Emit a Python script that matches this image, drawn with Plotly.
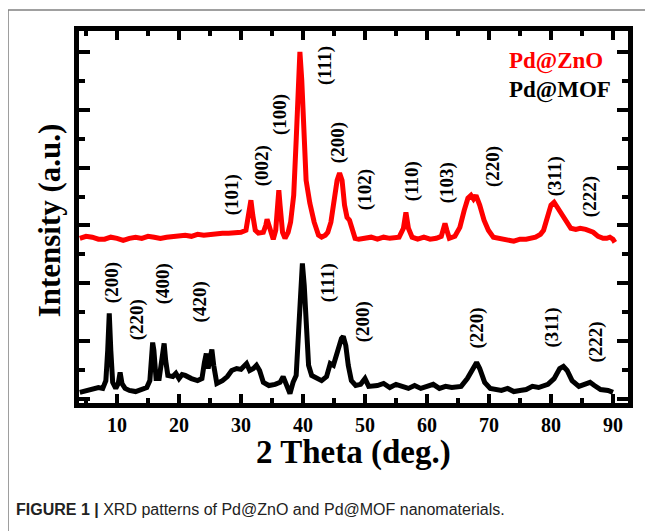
import plotly.graph_objects as go

# ---------------- data (2 theta in degrees, intensity in a.u.) ----------------
zno_2theta = [4, 5, 6, 7, 8, 9, 10, 11, 12, 13, 14, 15, 16, 17, 18, 19, 20, 21, 22, 23, 24, 25, 26, 27,
              28, 29, 30, 30.8, 31.3, 31.6, 31.9, 32.3, 32.8,
              33.6, 34.0, 34.2, 34.5, 35.0, 35.2, 35.6, 35.9, 36.1, 36.3, 36.7, 37.1, 37.6, 38.0, 38.5,
              38.9, 39.2, 39.5, 39.8, 40.1, 40.5, 41.1, 41.8, 42.5, 43.0, 43.6, 44.0, 44.5, 45.0, 45.5,
              45.9, 46.3, 46.7, 47.1, 47.5, 47.9, 48.4, 49, 50, 51, 52, 53, 54, 55.5, 56.2, 56.6, 57.0, 57.6,
              58.5, 59.5, 60.5, 61.5, 62.3, 62.7, 62.9, 63.2, 63.6, 64.5, 65.3, 66.0, 66.6, 67.1, 67.5, 67.9, 68.5,
              69.2, 69.9, 70.7, 72, 73, 74, 75, 76, 77.5, 78.3, 78.8, 79.5, 80.0, 80.5, 81.0, 81.7, 82.5, 83.2,
              84.0, 84.7, 85.6, 86.3, 86.8, 87.6, 88.4, 89.0, 89.5, 90.0, 90.3]
zno_intensity = [555, 562, 559, 552, 552, 559, 555, 548, 555, 559, 555, 562, 559, 555, 559, 562, 562, 566, 562, 569,
                 566, 569, 569, 573, 573, 576, 576, 583, 635, 687, 635, 583, 573,
                 576, 600, 621, 600, 562, 552, 583, 670, 722, 670, 576, 555, 576, 611, 704,
                 895, 1103, 1201, 1103, 895, 756, 677, 611, 566, 559, 566, 576, 611, 687, 756,
                 781, 756, 670, 628, 618, 590, 555, 552, 555, 559, 552, 559, 555, 559, 590, 645, 590, 559,
                 552, 559, 552, 555, 562, 597, 607, 583, 555, 562, 593, 652, 694, 704, 691, 704, 670,
                 618, 583, 559, 552, 548, 545, 552, 552, 559, 569, 583, 635, 670, 680, 663, 642, 618, 590,
                 586, 590, 586, 579, 576, 562, 555, 555, 559, 552, 541]

mof_2theta = [4, 5, 6, 7, 7.7, 8.2, 8.5, 8.75, 9.0, 9.3, 9.8, 10.2, 10.5, 10.8, 11.3, 12, 13, 14, 14.8,
              15.3, 15.55, 15.75, 15.95, 16.3, 16.8, 17.3, 17.6, 17.85, 18.2, 19, 19.5, 20, 20.5, 21, 21.5, 22, 23, 23.7,
              24.1, 24.4, 24.7, 25.0, 25.3, 25.6, 26.1, 27, 27.8, 28.5, 29.3, 30.0, 30.4, 30.9, 31.4,
              32.0, 32.5, 33.0, 33.6, 34.5, 35.5, 36.3, 36.8, 37.3, 37.9, 38.4, 38.9, 39.3, 39.6, 39.9,
              40.2, 40.5, 40.9, 41.4, 42.2, 43.0, 43.8, 44.4, 44.9, 45.6, 46.2, 46.5, 46.9, 47.3, 47.8,
              48.5, 49.3, 50.0, 50.6, 52, 53, 54, 55, 56, 57, 58, 59, 60, 61, 62, 63, 64, 65.5, 66.5, 67.4, 68.0, 68.5, 69.3,
              70.2, 71, 72, 73, 74, 75, 76, 77, 78, 79.5, 80.5, 81.4, 82.0, 82.6, 83.4, 84.5, 85.5, 86.3, 87.0, 88,
              89.2, 90.0]
mof_intensity = [21, 28, 31, 38, 35, 62, 167, 295, 167, 56, 35, 52, 90, 52, 35, 28, 24, 31, 38,
                 62, 167, 194, 167, 69, 69, 132, 191, 132, 80, 76, 87, 69, 83, 80, 73, 69, 62, 69,
                 125, 156, 104, 132, 170, 115, 52, 62, 76, 97, 104, 101, 111, 121, 97,
                 104, 115, 97, 56, 45, 49, 56, 76, 45, 17, 56, 80, 236, 409, 468,
                 392, 236, 115, 80, 69, 62, 76, 121, 115, 167, 208, 215, 184, 115, 62,
                 45, 49, 69, 42, 45, 52, 38, 49, 42, 35, 45, 35, 42, 49, 35, 42, 38, 42, 69, 108, 125, 104, 56,
                 35, 31, 28, 35, 24, 28, 31, 42, 38, 49, 69, 104, 111, 97, 62, 42, 49, 56, 45, 31,
                 28, 21]

# peak index labels (Miller indices) with their label anchor positions
zno_hkl = ["(101)", "(002)", "(100)", "(111)", "(200)", "(102)", "(110)", "(103)", "(220)", "(311)", "(222)"]
zno_hkl_2theta = [28.55, 33.39, 36.29, 43.55, 45.65, 50.0, 57.58, 63.23, 70.65, 80.65, 86.29]
zno_hkl_intensity = [704, 805, 982, 1152, 885, 722, 753, 746, 802, 770, 701]

mof_hkl = ["(200)", "(220)", "(400)", "(420)", "(111)", "(200)", "(220)", "(311)", "(222)"]
mof_hkl_2theta = [9.19, 13.23, 17.42, 23.39, 44.03, 49.68, 68.06, 80.16, 87.1]
mof_hkl_intensity = [403, 271, 396, 333, 403, 264, 246, 246, 194]

series_names = ["Pd@ZnO", "Pd@MOF"]
x_ticks = [10, 20, 30, 40, 50, 60, 70, 80, 90]

SERIF = "Liberation Serif, Times New Roman, serif"
RED = "#ff0000"
BLACK = "#000000"

fig = go.Figure()
fig.add_trace(go.Scatter(x=zno_2theta, y=zno_intensity, mode="lines", name=series_names[0],
                         line=dict(color=RED, width=5), showlegend=False))
fig.add_trace(go.Scatter(x=mof_2theta, y=mof_intensity, mode="lines", name=series_names[1],
                         line=dict(color=BLACK, width=5), showlegend=False))

annotations = []
for t, x, y in zip(zno_hkl, zno_hkl_2theta, zno_hkl_intensity):
    annotations.append(dict(x=x, y=y, xref="x", yref="y", text="<b>" + t + "</b>", textangle=-90, showarrow=False,
                            font=dict(family=SERIF, size=19, color=BLACK), xanchor="center", yanchor="middle"))
for t, x, y in zip(mof_hkl, mof_hkl_2theta, mof_hkl_intensity):
    annotations.append(dict(x=x, y=y, xref="x", yref="y", text="<b>" + t + "</b>", textangle=-90, showarrow=False,
                            font=dict(family=SERIF, size=19, color=BLACK), xanchor="center", yanchor="middle"))

# legend texts
annotations.append(dict(x=0.7796, y=0.919, xref="paper", yref="paper", text="<b>Pd@ZnO</b>", showarrow=False,
                        font=dict(family=SERIF, size=23, color=RED), xanchor="left", yanchor="middle"))
annotations.append(dict(x=0.7796, y=0.841, xref="paper", yref="paper", text="<b>Pd@MOF</b>", showarrow=False,
                        font=dict(family=SERIF, size=23, color=BLACK), xanchor="left", yanchor="middle"))
# axis titles
annotations.append(dict(x=0.5, y=-0.133, xref="paper", yref="paper", text="<b>2 Theta (deg.)</b>", showarrow=False,
                        font=dict(family=SERIF, size=33, color=BLACK), xanchor="center", yanchor="middle"))
annotations.append(dict(x=-0.0546, y=0.491, xref="paper", yref="paper", text="<b>Intensity (a.u.)</b>",
                        textangle=-90, showarrow=False,
                        font=dict(family=SERIF, size=31, color=BLACK), xanchor="center", yanchor="middle"))
# caption
annotations.append(dict(x=-0.1184, y=-0.2867, xref="paper", yref="paper",
                        text="<b>FIGURE 1 |</b> XRD patterns of Pd@ZnO and Pd@MOF nanomaterials.",
                        showarrow=False,
                        font=dict(family="Liberation Sans Narrow, Liberation Sans, Arial, sans-serif", size=16, color="#222222"),
                        xanchor="left", yanchor="middle"))

shapes = [
    dict(type="line", xref="paper", yref="paper", x0=-0.1293, y0=1.0565, x1=1.06, y1=1.0565,
         line=dict(color="#808080", width=1.5)),
    dict(type="line", xref="paper", yref="paper", x0=-0.1293, y0=1.0565, x1=-0.1293, y1=-0.36,
         line=dict(color="#808080", width=1.5)),
]

# the page body adds an 8px offset, so the figure is drawn 8px smaller and shifted
fig.update_layout(
    width=645, height=523,
    margin=dict(l=71, r=25, t=23, b=128, pad=0),
    paper_bgcolor="white", plot_bgcolor="white",
    annotations=annotations, shapes=shapes,
    showlegend=False,
)
fig.update_xaxes(range=[3.87, 92.42], tickvals=x_ticks, ticks="inside", ticklen=9, tickwidth=3.5,
                 tickcolor=BLACK, showline=True, linewidth=4.5, linecolor=BLACK, mirror="ticks",
                 showgrid=False, zeroline=False,
                 tickfont=dict(family=SERIF, size=20, color=BLACK, weight="bold"),
                 minor=dict(dtick=5, tick0=0, ticks="inside", ticklen=5, tickwidth=3.5, tickcolor=BLACK, showgrid=False))
fig.update_yaxes(range=[-15.6, 1273.5], tick0=0, dtick=200, ticks="inside", ticklen=11, tickwidth=3.5,
                 tickcolor=BLACK, showline=True, linewidth=4.5, linecolor=BLACK, mirror="ticks",
                 showgrid=False, zeroline=False, showticklabels=False,
                 minor=dict(dtick=100, tick0=0, ticks="inside", ticklen=6, tickwidth=3.5, tickcolor=BLACK, showgrid=False))

fig.write_html("out.html")
